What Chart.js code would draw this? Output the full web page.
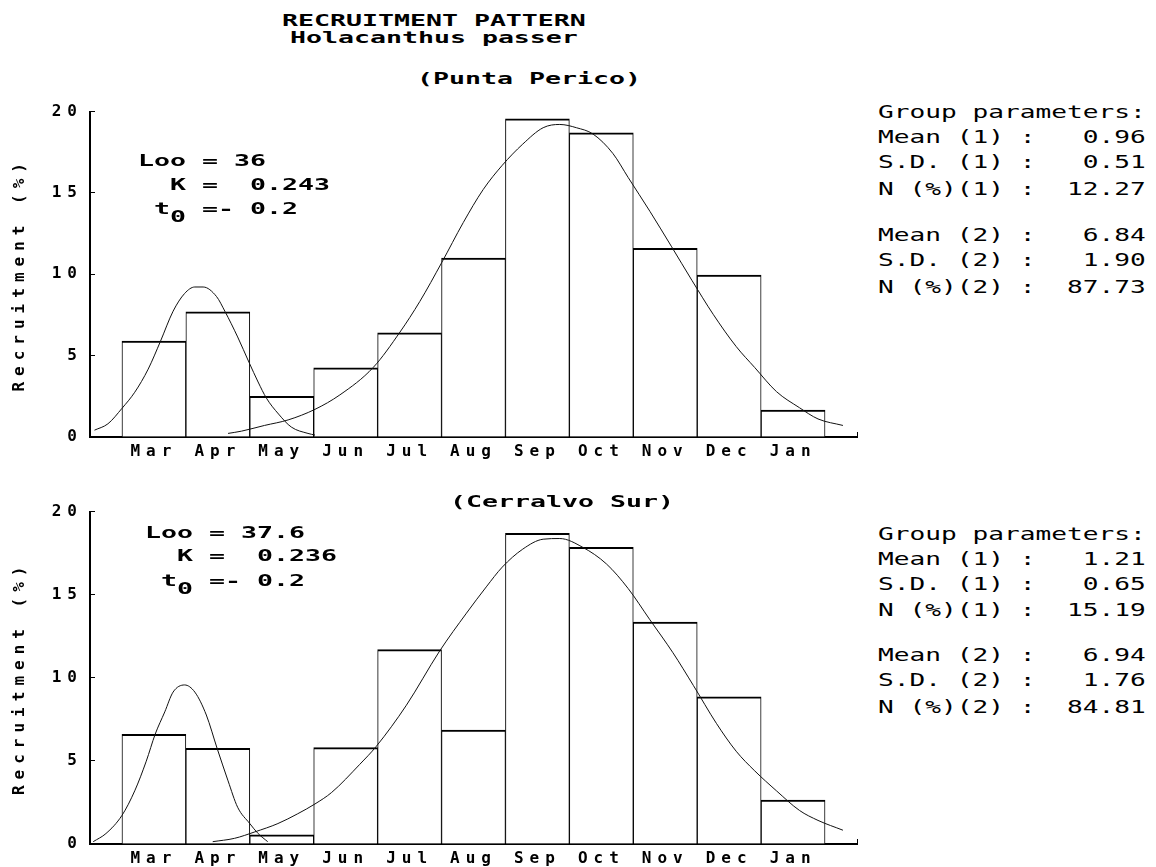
<!DOCTYPE html>
<html>
<head>
<meta charset="utf-8">
<script src="https://cdn.jsdelivr.net/npm/chart.js@4.4.0/dist/chart.umd.min.js"></script>
<style>
	body { margin: 0; background: #fff; }
	#page { position: relative; width: 1156px; height: 867px; overflow: hidden; background: #fff; }
	.box { position: absolute; left: 0; }
	.txt {
		position: absolute; white-space: pre; color: #000;
		font-family: "DejaVu Sans Mono", monospace; font-weight: bold;
		font-size: 16px; line-height: 16px;
		transform: scaleX(1.66); transform-origin: 0 0;
	}
	.par {
		position: absolute; white-space: pre; color: #000;
		font-family: "DejaVu Sans Mono", monospace; font-weight: normal;
		font-size: 18px; line-height: 18px;
		transform: scaleX(1.453); transform-origin: 0 0;
	}
	.low { position: relative; top: 8px; }
</style>
</head>
<body>
<div id="page">
	<div class="txt" style="left:282px; top:13px;">RECRUITMENT PATTERN</div>
	<div class="txt" style="left:290px; top:30px;">Holacanthus passer</div>

	<div class="txt" style="left:417px; top:71px;">(Punta Perico)</div>
	<div class="box" style="top:90px; width:870px; height:380px;"><canvas id="chartTop" width="870" height="380"></canvas></div>
	<div class="txt" style="left:138px; top:153px;">Loo = 36</div>
	<div class="txt" style="left:138px; top:177px;">  K =  0.243</div>
	<div class="txt" style="left:138px; top:201px;"> t<span class="low">0</span> =- 0.2</div>

	<div class="par" style="left:878px; top:103px;">Group parameters:</div>
	<div class="par" style="left:878px; top:128px;">Mean (1) :   0.96</div>
	<div class="par" style="left:878px; top:153px;">S.D. (1) :   0.51</div>
	<div class="par" style="left:878px; top:180px;">N (%)(1) :  12.27</div>
	<div class="par" style="left:878px; top:226px;">Mean (2) :   6.84</div>
	<div class="par" style="left:878px; top:251px;">S.D. (2) :   1.90</div>
	<div class="par" style="left:878px; top:278px;">N (%)(2) :  87.73</div>

	<div class="box" style="top:490px; width:870px; height:377px;"><canvas id="chartBottom" width="870" height="377"></canvas></div>
	<div class="txt" style="left:450px; top:494px;">(Cerralvo Sur)</div>
	<div class="txt" style="left:145px; top:525px;">Loo = 37.6</div>
	<div class="txt" style="left:145px; top:548px;">  K =  0.236</div>
	<div class="txt" style="left:145px; top:573px;"> t<span class="low">0</span> =- 0.2</div>

	<div class="par" style="left:878px; top:525px;">Group parameters:</div>
	<div class="par" style="left:878px; top:550px;">Mean (1) :   1.21</div>
	<div class="par" style="left:878px; top:575px;">S.D. (1) :   0.65</div>
	<div class="par" style="left:878px; top:601px;">N (%)(1) :  15.19</div>
	<div class="par" style="left:878px; top:646px;">Mean (2) :   6.94</div>
	<div class="par" style="left:878px; top:671px;">S.D. (2) :   1.76</div>
	<div class="par" style="left:878px; top:698px;">N (%)(2) :  84.81</div>
</div>
<script>
const months = ["Mar", "Apr", "May", "Jun", "Jul", "Aug", "Sep", "Oct", "Nov", "Dec", "Jan"];
const yTitle = "Recruitment (%)";

// Punta Perico
const pericoBars = [5.9, 7.7, 2.5, 4.25, 6.4, 11.0, 19.55, 18.7, 11.6, 9.95, 1.65];
const pericoC1x = [-0.93, -0.72, -0.5, -0.3, -0.09, 0.1, 0.3, 0.48, 0.64, 0.77, 0.98, 1.11, 1.31, 1.49, 1.63, 1.76, 1.95, 2.15, 2.41, 2.52];
const pericoC1y = [0.42, 0.81, 1.76, 2.75, 4.17, 5.86, 7.73, 8.82, 9.22, 9.22, 8.63, 7.73, 6.15, 4.57, 3.38, 2.39, 1.41, 0.61, 0.22, 0.12];
const pericoC2x = [1.16, 1.37, 1.73, 2.1, 2.52, 2.91, 3.43, 3.85, 4.16, 4.5, 4.84, 5.15, 5.45, 5.77, 6.09, 6.35, 6.61, 6.87, 7.18, 7.42, 7.76, 8.1, 8.42, 8.75, 9.11, 9.4, 9.74, 10.1, 10.39, 10.78];
const pericoC2y = [0.22, 0.36, 0.71, 1.05, 1.7, 2.59, 4.27, 6.45, 8.33, 10.7, 13.18, 15.2, 16.7, 18.0, 19.01, 19.21, 19.01, 18.62, 17.43, 15.95, 13.87, 11.69, 9.61, 7.54, 5.56, 4.27, 2.79, 1.8, 1.11, 0.71];

// Cerralvo Sur
const cerralvoBars = [6.6, 5.75, 0.55, 5.8, 11.7, 6.85, 18.7, 17.85, 13.35, 8.85, 2.65];
const cerralvoC1x = [-0.95, -0.75, -0.5, -0.3, -0.12, 0.02, 0.17, 0.3, 0.48, 0.64, 0.82, 0.99, 1.16, 1.31, 1.5, 1.63, 1.78];
const cerralvoC1y = [0.14, 0.63, 1.72, 3.2, 4.98, 6.61, 7.95, 9.14, 9.57, 9.14, 7.76, 5.74, 3.8, 2.21, 1.23, 0.63, 0.14];
const cerralvoC2x = [0.92, 1.26, 1.58, 1.94, 2.25, 2.52, 2.78, 3.22, 3.48, 3.95, 4.47, 4.89, 5.2, 5.45, 5.77, 6.09, 6.35, 6.71, 7.08, 7.42, 7.76, 8.12, 8.44, 8.8, 9.11, 9.4, 9.74, 10.1, 10.39, 10.78];
const cerralvoC2y = [0.14, 0.34, 0.73, 1.23, 1.82, 2.41, 3.1, 4.79, 5.88, 8.35, 11.61, 13.89, 15.47, 16.66, 17.74, 18.34, 18.38, 17.85, 16.85, 15.37, 13.49, 11.51, 9.54, 7.26, 5.58, 4.4, 3.2, 2.02, 1.42, 0.83];

const chartFont = { family: "'DejaVu Sans Mono', monospace", size: 16, weight: "bold" };

// the old DOS font is wide, so spread the canvas text out
const wideText = {
	id: "wideText",
	beforeUpdate: (chart) => { chart.ctx.letterSpacing = "6px"; },
	beforeDraw: (chart) => { chart.ctx.letterSpacing = "6px"; },
};

function points(xs, ys) {
	return xs.map((x, i) => ({ x: x, y: ys[i] }));
}

function curve(xs, ys) {
	return {
		type: "line",
		data: points(xs, ys),
		borderColor: "#111",
		borderWidth: 1,
		pointRadius: 0,
		cubicInterpolationMode: "monotone",
		fill: false,
		order: 0,
	};
}

function makeChart(id, bars, c1x, c1y, c2x, c2y, padTop, xHeight) {
	new Chart(document.getElementById(id), {
		type: "bar",
		data: {
			datasets: [
				curve(c1x, c1y),
				curve(c2x, c2y),
				{
					type: "bar",
					data: bars.map((v, i) => ({ x: i, y: v })),
					backgroundColor: "#fff",
					borderColor: "#000",
					borderWidth: { top: 2, left: 1, right: 1, bottom: 0 },
					borderSkipped: false,
					barPercentage: 1,
					categoryPercentage: 1,
					order: 1,
				},
			],
		},
		plugins: [wideText],
		options: {
			responsive: false,
			animation: false,
			layout: { padding: { top: padTop, right: 13, left: 0, bottom: 0 } },
			plugins: { legend: { display: false }, tooltip: { enabled: false } },
			scales: {
				x: {
					type: "linear",
					min: -1,
					max: 11,
					offset: false,
					afterFit: (scale) => { scale.height = xHeight; },
					border: { color: "#000", width: 2 },
					grid: { offset: false, drawOnChartArea: false, drawTicks: true, tickLength: -5, color: "#000" },
					ticks: {
						stepSize: 1,
						autoSkip: false,
						maxRotation: 0,
						padding: 10,
						color: "#000",
						font: chartFont,
						callback: (v) => months[v] || "",
					},
				},
				y: {
					min: 0,
					max: 20,
					afterFit: (scale) => { scale.width = 90; },
					border: { color: "#000", width: 2 },
					grid: { drawOnChartArea: false, drawTicks: true, tickLength: -5, color: "#000" },
					ticks: { stepSize: 5, padding: 12, color: "#000", font: chartFont },
					title: { display: true, text: yTitle, color: "#000", font: chartFont, padding: { top: 10, bottom: 0 } },
				},
			},
		},
	});
}

makeChart("chartTop", pericoBars, pericoC1x, pericoC1y, pericoC2x, pericoC2y, 10, 33);
makeChart("chartBottom", cerralvoBars, cerralvoC1x, cerralvoC1y, cerralvoC2x, cerralvoC2y, 17, 23);
</script>
</body>
</html>
